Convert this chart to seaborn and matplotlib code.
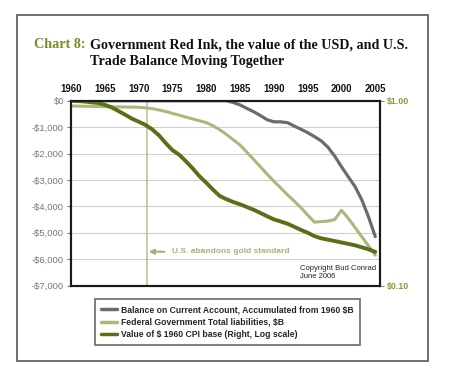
import numpy as np
import pandas as pd
import seaborn as sns
import matplotlib.pyplot as plt
from matplotlib.patches import Rectangle
from matplotlib.lines import Line2D

# Data (1960-2005)
years = list(range(1960, 2006))

# Balance on Current Account, accumulated from 1960, $B (line starts 1964)
current_account = [np.nan] * 4 + [0] * 20 + [
    -70, -160, -290, -415, -560, -720, -800, -800, -830, -960,
    -1080, -1210, -1360, -1520, -1760, -2100, -2500, -2880, -3250, -3750,
    -4400, -5150]

# Federal Government Total liabilities, $B (plotted negative)
fed_liabilities = [
    -200, -205, -210, -215, -220, -225, -230, -235, -240, -245,
    -250, -270, -300, -350, -410, -480, -550, -620, -690, -760,
    -830, -950, -1100, -1280, -1480, -1680, -1950, -2220, -2500, -2780,
    -3050, -3300, -3560, -3800, -4050, -4330, -4600, -4580, -4560, -4500,
    -4150, -4450, -4800, -5150, -5500, -5850]

# Value of $ 1960 CPI base (right axis, log scale)
usd_value = [
    1.00, 0.995, 0.99, 0.98, 0.972, 0.95, 0.92, 0.88, 0.84, 0.80,
    0.77, 0.74, 0.70, 0.65, 0.59, 0.54, 0.51, 0.47, 0.43, 0.39,
    0.36, 0.33, 0.305, 0.293, 0.283, 0.275, 0.266, 0.257, 0.247, 0.237,
    0.228, 0.222, 0.216, 0.208, 0.200, 0.193, 0.185, 0.180, 0.177, 0.174,
    0.171, 0.168, 0.165, 0.161, 0.157, 0.152]

left_ticks = [0, -1000, -2000, -3000, -4000, -5000, -6000, -7000]
left_labels = ["$0", "-$1,000", "-$2,000", "-$3,000", "-$4,000", "-$5,000", "-$6,000", "-$7,000"]
year_ticks = list(range(1960, 2006, 5))

df = pd.DataFrame({"year": years, "ca": current_account,
                   "fed": fed_liabilities, "usd": usd_value})

sns.set_style("white")
plt.rcParams["font.family"] = ["Liberation Sans", "DejaVu Sans"]

GRAY = "#6b6b6b"
LIGHT = "#a9b97a"
DARK = "#587116"
OLIVE = "#8a9a3c"

W, H = 450, 380
fig = plt.figure(figsize=(4.5, 3.8), dpi=100)
fig.patch.set_facecolor("white")

# outer frame
fig.add_artist(Rectangle((17 / W, 1 - 361 / H), 411 / W, 346 / H,
                         transform=fig.transFigure, fill=False,
                         edgecolor="#6e6e6e", linewidth=1.4))

ax = fig.add_axes([71 / W, 1 - 285.5 / H, 309 / W, 184.8 / H])
ax2 = ax.twinx()

sns.lineplot(data=df, x="year", y="ca", ax=ax, color=GRAY, linewidth=2.3)
sns.lineplot(data=df, x="year", y="fed", ax=ax, color=LIGHT, linewidth=2.2)
sns.lineplot(data=df, x="year", y="usd", ax=ax2, color=DARK, linewidth=2.8)

# gold standard marker
ax.axvline(1971.25, color="#b9c28e", linewidth=1.1, zorder=1)
ax.annotate("U.S. abandons gold standard", xy=(1971.5, -5720), xytext=(1974.9, -5720),
            color="#a6b274", fontsize=6.0, fontweight="bold", va="center", ha="left",
            arrowprops=dict(arrowstyle="-|>", color="#a6b274", lw=1.5, mutation_scale=7,
                            shrinkA=3, shrinkB=0))
ax.text(1993.9, -6500, "Copyright Bud Conrad\nJune 2006", fontsize=5.5,
        color="#222222", va="center", ha="left", linespacing=1.15)

ax.set_xlim(1960, 2005.7)
ax.set_ylim(-7000, 0)
ax.set_yticks(left_ticks)
ax.set_yticklabels(left_labels)
ax.yaxis.grid(True, color="#cfcfcf", linewidth=0.8)
ax.set_axisbelow(True)
ax.set_xlabel("")
ax.set_ylabel("")
ax.xaxis.tick_top()
ax.set_xticks(year_ticks)
ax.set_xticklabels([str(y) for y in year_ticks], fontweight="bold", fontsize=6.9)
ax.tick_params(axis="x", length=0, pad=5, colors="#111111")
ax.tick_params(axis="y", length=3, width=0.8, pad=2, labelsize=6.8, colors="#777777")

ax2.set_yscale("log")
ax2.set_ylim(0.1, 1.0)
ax2.set_yticks([0.1, 1.0])
ax2.set_yticklabels(["$0.10", "$1.00"], fontweight="bold")
ax2.minorticks_off()
ax2.tick_params(axis="y", length=3, width=0.8, pad=2, labelsize=6.4, colors=OLIVE)
ax2.set_ylabel("")

for a in (ax, ax2):
    for s in a.spines.values():
        s.set_color("#1a1a1a")
        s.set_linewidth(1.5)

# title
title_font = dict(fontsize=10.2, fontweight="bold", family="Liberation Serif", va="center")
fig.text(86 / W, 1 - 45 / H, "Chart 8:", color="#7b8b2a", ha="right", **title_font)
fig.text(90 / W, 1 - 45 / H, "Government Red Ink, the value of the USD, and U.S.",
         color="#111111", ha="left", **title_font)
fig.text(90 / W, 1 - 62 / H, "Trade Balance Moving Together",
         color="#111111", ha="left", **title_font)

handles = [Line2D([], [], color=GRAY, linewidth=2.5),
           Line2D([], [], color=LIGHT, linewidth=2.5),
           Line2D([], [], color=DARK, linewidth=2.5)]
labels = ["Balance on Current Account, Accumulated from 1960 $B",
          "Federal Government Total liabilities, $B",
          "Value of $ 1960 CPI base (Right, Log scale)"]
leg = fig.legend(handles, labels, loc="upper left",
                 bbox_to_anchor=(91 / W, 1 - 295 / H), frameon=True, fancybox=False,
                 prop={"weight": "bold", "size": 6.2}, handlelength=1.8,
                 handletextpad=0.5, labelspacing=0.4, borderpad=0.7)
leg.get_frame().set_edgecolor("#444444")
leg.get_frame().set_linewidth(1.2)

fig.savefig("out.png", dpi=100, facecolor="white")
